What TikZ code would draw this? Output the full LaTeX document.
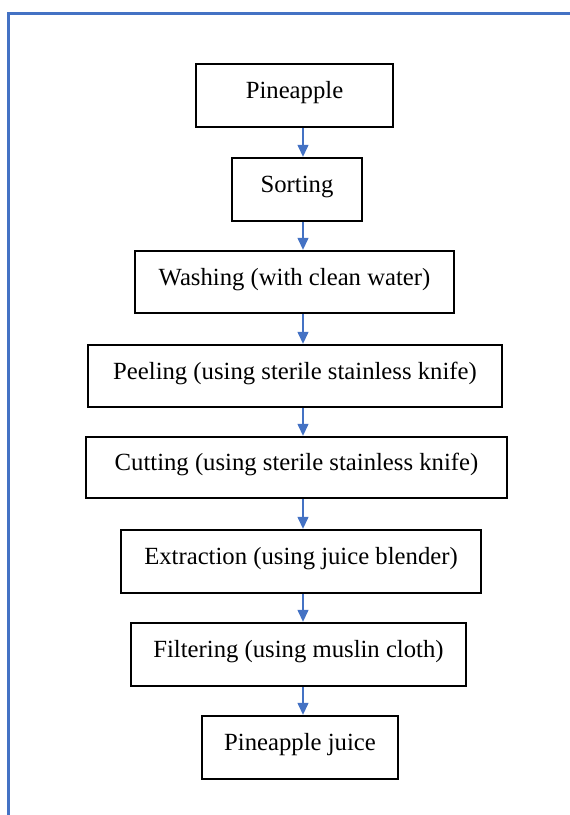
\documentclass[tikz,border=0pt]{standalone}
\usepackage{fontspec}
\setmainfont{Liberation Serif}
\usetikzlibrary{arrows.meta}
\definecolor{wordblue}{HTML}{4472C4}
\tikzset{
  stepbox/.style={draw=black, line width=2.4pt, rectangle, inner sep=0pt,
    font=\fontsize{24.7}{30}\selectfont, text height=11pt, text depth=5pt},
  flowarrow/.style={draw=wordblue, line width=1.3pt, -{Triangle[width=11pt,length=12pt]}},
  framebar/.style={draw=wordblue, line width=3pt}
}
\begin{document}
\begin{tikzpicture}[x=1pt,y=-1pt]
\useasboundingbox (0,0) rectangle (570,815);
% partial page frame
\coordinate (fA) at (570,13);
\coordinate (fB) at (8,13);
\coordinate (fC) at (8,815);
\draw[framebar] (fA) -- (fB) -- (fC);
% boxes
\node[stepbox, minimum width=197pt, minimum height=63pt] (b1) at (294.5,95.5) {Pineapple};
\node[stepbox, minimum width=130pt, minimum height=63pt] (b2) at (297,189.5) {Sorting};
\node[stepbox, minimum width=319pt, minimum height=62pt] (b3) at (294.5,282) {Washing (with clean water)};
\node[stepbox, minimum width=414pt, minimum height=62pt] (b4) at (295,376) {Peeling (using sterile stainless knife)};
\node[stepbox, minimum width=421pt, minimum height=61pt] (b5) at (296.5,467.5) {Cutting (using sterile stainless knife)};
\node[stepbox, minimum width=360pt, minimum height=63pt] (b6) at (301,561.5) {Extraction (using juice blender)};
\node[stepbox, minimum width=335pt, minimum height=63pt] (b7) at (298.5,654.5) {Filtering (using muslin cloth)};
\node[stepbox, minimum width=196pt, minimum height=63pt] (b8) at (300,747.5) {Pineapple juice};
% arrows
\coordinate (ax) at (303,0);
\foreach \a/\b in {b1/b2,b2/b3,b3/b4,b4/b5,b5/b6,b6/b7,b7/b8}{
  \draw[flowarrow] (\a.south -| ax) -- (\b.north -| ax);
}
\end{tikzpicture}
\end{document}
